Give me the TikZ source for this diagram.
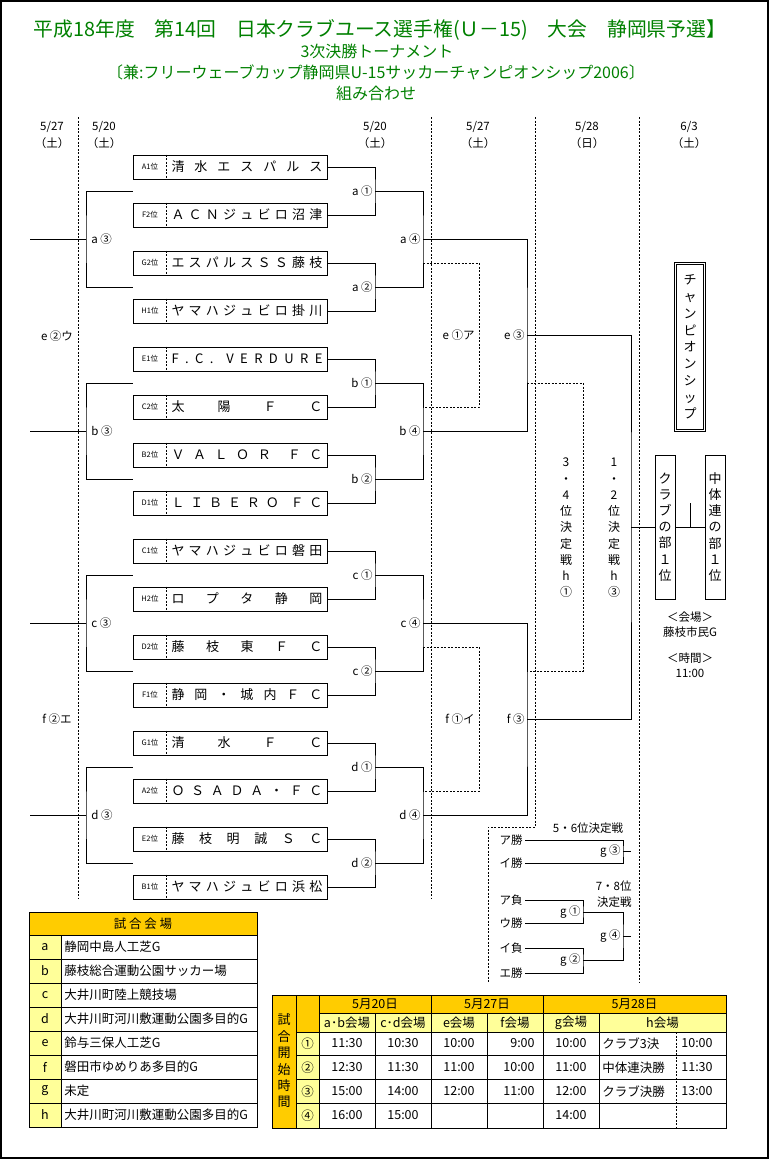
\documentclass[tikz,border=0pt]{standalone}
\usepackage{fontspec}
\setmainfont{Noto Sans CJK JP}
\usetikzlibrary{calc}

\definecolor{ttlgreen}{RGB}{0,128,0}
\definecolor{gold}{RGB}{255,204,0}
\definecolor{pale}{RGB}{255,255,153}

\tikzset{
  team/.style={draw, minimum width=194, minimum height=24, inner sep=0},
  rank/.style={font=\fontsize{7.5}{8}\selectfont, inner sep=0},
  tname/.style={font=\fontsize{13}{14}\selectfont, inner sep=0},
  lbl/.style={font=\fontsize{11.5}{12}\selectfont, inner sep=2pt},
  dline/.style={dash pattern=on 2pt off 1.5pt},
  vbox/.style={draw, minimum width=20, minimum height=144, inner sep=1pt, align=center, font=\fontsize{13}{16.2}\selectfont},
  vtext/.style={align=center, inner sep=0, font=\fontsize{12}{16.25}\selectfont},
  cell/.style={font=\fontsize{12.5}{13}\selectfont, inner sep=0},
  ttl/.style={text=ttlgreen, inner sep=0, font=\fontsize{16}{17}\selectfont},
}

\begin{document}
\begin{tikzpicture}[x=1pt, y=-1pt, line width=0.8pt]
  \useasboundingbox (0,0) rectangle (770,1160);
  \draw[line width=1.5pt] (1,1) rectangle (768,1158);

  \node[ttl, font=\fontsize{19.8}{20}\selectfont] (ttl1) at (380,30) {平成18年度　第14回　日本クラブユース選手権(Ｕ－15)　大会　静岡県予選】};
  \node[ttl] (ttl2) at (377,51) {3次決勝トーナメント};
  \node[ttl] (ttl3) at (376,72) {〔兼:フリーウェーブカップ静岡県U-15サッカーチャンピオンシップ2006〕};
  \node[ttl] (ttl4) at (376,93) {組み合わせ};

  \foreach \x/\m/\dd/\w [count=\i] in {52/5/27/土, 104/5/20/土, 375/5/20/土, 478/5/27/土, 587/5/28/日, 689/6/3/土} {
    \node[lbl] (dt\i) at (\x,127) {\m/\dd};
    \node[lbl] (dw\i) at (\x,143) {（\w）};
  }

  \foreach \x in {78,431} \draw[dline] (\x,117) -- (\x,898);
  \draw[dline] (535,117) -- (535,827) -- (488,827) -- (488,983);
  \draw[dline] (639,117) -- (639,983);

  \foreach \code/\name [count=\i from 0] in {A1位/清 水 エ ス パ ル ス, F2位/Ａ Ｃ Ｎ ジ ュ ビ ロ 沼 津,
      G2位/エ ス パ ル ス Ｓ Ｓ 藤 枝, H1位/ヤ マ ハ ジ ュ ビ ロ 掛 川,
      E1位/F . C . ~V E R D U R E, C2位/太 陽 Ｆ Ｃ, B2位/Ｖ Ａ Ｌ Ｏ Ｒ ~Ｆ Ｃ, D1位/Ｌ Ｉ Ｂ Ｅ Ｒ Ｏ ~Ｆ Ｃ,
      C1位/ヤ マ ハ ジ ュ ビ ロ 磐 田, H2位/ロ プ タ 静 岡, D2位/藤 枝 東 Ｆ Ｃ, F1位/静 岡 ・ 城 内 Ｆ Ｃ,
      G1位/清 水 Ｆ Ｃ, A2位/Ｏ Ｓ Ａ Ｄ Ａ ・ Ｆ Ｃ, E2位/藤 枝 明 誠 Ｓ Ｃ, B1位/ヤ マ ハ ジ ュ ビ ロ 浜 松} {
    \pgfmathtruncatemacro{\yy}{167+48*\i}
    \node[team] (t\i) at (230,\yy) {};
    \node[rank] (k\i) at (150,\yy) {\code};
    \draw[dline] ([xshift=34pt]t\i.north west) -- ([xshift=34pt]t\i.south west);
    \node[tname] (n\i) at (247,\yy) {\makebox[151pt][s]{\name}};
  }

  \foreach \L [count=\g from 0] in {a,b,c,d} {
    \pgfmathtruncatemacro{\yy}{167+192*\g}
    \pgfmathtruncatemacro{\tA}{4*\g}
    \pgfmathtruncatemacro{\tB}{4*\g+1}
    \pgfmathtruncatemacro{\tC}{4*\g+2}
    \pgfmathtruncatemacro{\tD}{4*\g+3}
    \coordinate (\L1) at (375,\yy+24);
    \coordinate (\L2) at (375,\yy+120);
    \coordinate (\L3) at (86,\yy+72);
    \coordinate (\L4) at (423,\yy+72);
    \draw (t\tA.east) -| (\L1) |- (t\tB.east);
    \draw (t\tC.east) -| (\L2) |- (t\tD.east);
    \draw (\L1) -| (\L4) |- (\L2);
    \draw (t\tA.west |- \L1) -| (\L3) |- (t\tC.west |- \L2);
    \draw (\L3) -- ++(-56,0);
    \node[lbl, anchor=east] (m\L1) at (\L1) {\L\ ①};
    \node[lbl, anchor=east] (m\L2) at (\L2) {\L\ ②};
    \node[lbl, anchor=west] (m\L3) at ([xshift=3pt]\L3) {\L\ ③};
    \node[lbl, anchor=east] (m\L4) at (\L4) {\L\ ④};
  }

  \coordinate (e3) at (527,335);
  \coordinate (f3) at (527,719);
  \coordinate (h3) at (631,527);
  \draw (a4) -| (e3) |- (b4);
  \draw (c4) -| (f3) |- (d4);
  \draw (e3) -| (h3) |- (f3);
  \coordinate (e1) at (479,335);
  \coordinate (f1) at (479,719);
  \coordinate (h1) at (583,527);
  \draw[dline] (a4 |- t2) -| (e1) |- (b4 |- t5);
  \draw[dline] (c4 |- t10) -| (f1) |- (d4 |- t13);
  \draw[dline] (e3 |- b1) -| (h1) |- (f3 |- c2);
  \node[lbl, anchor=east] (me3) at (e3) {e\ ③};
  \node[lbl, anchor=east] (mf3) at (f3) {f\ ③};
  \node[lbl, anchor=east] (me1) at ([xshift=-2pt]e1) {e\ ①ア};
  \node[lbl, anchor=east] (mf1) at ([xshift=-2pt]f1) {f\ ①イ};
  \node[lbl] (me2) at (57,336) {e\ ②ウ};
  \node[lbl] (mf2) at (57,719) {f\ ②エ};

  \node[vtext] (s34) at (566,528) {3\\・\\4\\位\\決\\定\\戦\\h\\①};
  \node[vtext] (s12) at (614,528) {1\\・\\2\\位\\決\\定\\戦\\h\\③};

  \node[draw, double, double distance=1.5pt, minimum width=29, minimum height=167, inner sep=0, align=center,
        font=\fontsize{13}{16.75}\selectfont] (champ) at (690,347) {チ\\ャ\\ン\\ピ\\オ\\ン\\シ\\ッ\\プ};
  \node[vbox] (club) at (665,527) {ク\\ラ\\ブ\\の\\部\\１\\位};
  \node[vbox] (chu) at (715,527) {中\\体\\連\\の\\部\\１\\位};
  \draw (h3) -- (club);
  \draw (club) -- (chu);
  \coordinate (fin) at (690,527);
  \draw (fin) -- ++(0,-24);
  \node[lbl] (vn1) at (690,617) {＜会場＞};
  \node[lbl] (vn2) at (690,632) {藤枝市民G};
  \node[lbl] (vn3) at (690,658) {＜時間＞};
  \node[lbl] (vn4) at (690,673) {11:00};

  \node[lbl] (r56) at (588,828) {5・6位決定戦};
  \node[lbl, anchor=east] (r78a) at (634,886) {7・8位};
  \node[lbl, anchor=east] (r78b) at (634,902) {決定戦};
  \node[lbl, anchor=east] (w1) at (525,840) {ア勝};
  \node[lbl, anchor=east] (w2) at (525,863) {イ勝};
  \node[lbl, anchor=east] (l1) at (525,900) {ア負};
  \node[lbl, anchor=east] (w3) at (525,923) {ウ勝};
  \node[lbl, anchor=east] (l2) at (525,948) {イ負};
  \node[lbl, anchor=east] (w4) at (525,973) {エ勝};
  \coordinate (g3) at (623,851);
  \coordinate (g1) at (583,912);
  \coordinate (g2) at (583,960);
  \coordinate (g4) at (623,936);
  \draw (w1.east) -| (g3) |- (w2.east);
  \draw (l1.east) -| (g1) |- (w3.east);
  \draw (l2.east) -| (g2) |- (w4.east);
  \draw (g1) -| (g4) |- (g2);
  \draw (g3) -- ++(8,0);
  \draw (g4) -- ++(8,0);
  \node[lbl, anchor=east] (mg3) at (g3) {g\ ③};
  \node[lbl, anchor=east] (mg1) at (g1) {g\ ①};
  \node[lbl, anchor=east] (mg2) at (g2) {g\ ②};
  \node[lbl, anchor=east] (mg4) at (g4) {g\ ④};

  % venues
  \fill[gold] (29,912) rectangle (257,935);
  \fill[pale] (29,935) rectangle (61,1127);
  \foreach \k in {0,...,7} \draw (29,935+24*\k) -- (257,935+24*\k);
  \draw (61,935) -- (61,1127);
  \draw (29,912) rectangle (257,1127);
  \node[cell] (vhd) at (143,923.5) {試\ 合\ 会\ 場};
  \foreach \v/\p [count=\k from 0] in {a/静岡中島人工芝G, b/藤枝総合運動公園サッカー場, c/大井川町陸上競技場,
      d/大井川町河川敷運動公園多目的G, e/鈴与三保人工芝G, f/磐田市ゆめりあ多目的G, g/未定, h/大井川町河川敷運動公園多目的G} {
    \node[cell] (vl\k) at (45,947+24*\k) {\v};
    \node[cell, anchor=west] (vp\k) at (64,947+24*\k) {\p};
  }

  % times
  \fill[gold] (272,995) rectangle (296,1128);
  \fill[gold] (296,995) rectangle (726,1013);
  \fill[gold] (296,1013) rectangle (319,1032);
  \fill[pale] (319,1013) rectangle (726,1032);
  \fill[pale] (296,1032) rectangle (319,1128);
  \draw (272,995) rectangle (726,1128);
  \draw (296,995) -- (296,1128);
  \draw (319,995) -- (319,1128);
  \draw (319,1013) -- (726,1013);
  \foreach \y in {1032,1055,1079,1103} \draw (296,\y) -- (726,\y);
  \foreach \x in {375,487,599} \draw (\x,1013) -- (\x,1128);
  \foreach \x in {431,543} \draw (\x,995) -- (\x,1128);
  \draw[dline] (676,1032) -- (676,1128);
  \node[vtext, font=\fontsize{13}{16.4}\selectfont] (qv) at (284,1061) {試\\合\\開\\始\\時\\間};
  \node[cell] (d20) at (375,1004) {5月20日};
  \node[cell] (d27) at (487,1004) {5月27日};
  \node[cell] (d28) at (634.5,1004) {5月28日};
  \foreach \x/\v [count=\k] in {347/a･b会場, 403/c･d会場, 459/e会場, 515/f会場, 571/g会場, 662.5/h会場}
    \node[cell] (vn\k) at (\x,1022.5) {\v};
  \foreach \cn/\vAB/\vCD/\vE/\vF/\vG/\hname/\htime [count=\k from 0] in {①/11:30/10:30/10:00/9:00/10:00/クラブ3決/10:00,
      ②/12:30/11:30/11:00/10:00/11:00/中体連決勝/11:30, ③/15:00/14:00/12:00/11:00/12:00/クラブ決勝/13:00,
      ④/16:00/15:00/{}/{}/14:00/{}/{}} {
    \node[cell] (q\k) at (307.5,1043.5+24*\k) {\cn};
    \node[cell] (qa\k) at (347,1043.5+24*\k) {\vAB};
    \node[cell] (qc\k) at (403,1043.5+24*\k) {\vCD};
    \node[cell] (qe\k) at (459,1043.5+24*\k) {\vE};
    \node[cell, anchor=east] (qf\k) at (535,1043.5+24*\k) {\vF};
    \node[cell] (qg\k) at (571,1043.5+24*\k) {\vG};
    \node[cell, anchor=west] (qh\k) at (602,1043.5+24*\k) {\hname};
    \node[cell] (qt\k) at (697,1043.5+24*\k) {\htime};
  }
\end{tikzpicture}
\end{document}
